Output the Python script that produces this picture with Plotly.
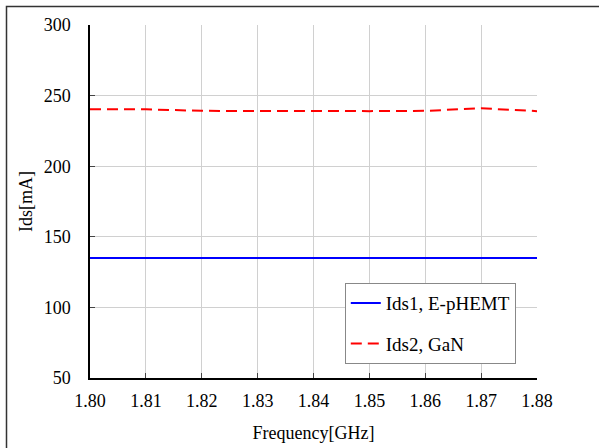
import plotly.graph_objects as go

freq = [1.80, 1.81, 1.82, 1.83, 1.84, 1.85, 1.86, 1.87, 1.88]
ids1 = [135, 135, 135, 135, 135, 135, 135, 135, 135]
ids2 = [240.4, 240.3, 239.2, 239.0, 239.0, 239.0, 239.2, 241.0, 239.0]
x_ticks = [1.80, 1.81, 1.82, 1.83, 1.84, 1.85, 1.86, 1.87, 1.88]
x_labels = ["1.80", "1.81", "1.82", "1.83", "1.84", "1.85", "1.86", "1.87", "1.88"]
y_ticks = [50, 100, 150, 200, 250, 300]

FONT = "Liberation Serif, Times New Roman, serif"

fig = go.Figure()
fig.add_trace(go.Scatter(x=freq, y=ids1, mode="lines", name="Ids1, E-pHEMT",
                         legendgroup="a",
                         line=dict(color="#0000ff", width=2)))
fig.add_trace(go.Scatter(x=freq, y=ids2, mode="lines", name="Ids2, GaN",
                         legendgroup="b",
                         line=dict(color="#ff0000", width=2, dash="11px,6px")))

fig.update_layout(
    width=599, height=448,
    margin=dict(l=90, r=62, t=25, b=70, autoexpand=False),
    paper_bgcolor="white", plot_bgcolor="white",
    font=dict(family=FONT, size=18, color="black"),
    showlegend=True,
    legend=dict(x=0.570, y=0.269, xanchor="left", yanchor="top",
                bordercolor="#888888", borderwidth=1, bgcolor="white",
                font=dict(family=FONT, size=19),
                entrywidth=172, entrywidthmode="pixels",
                traceorder="grouped", tracegroupgap=13),
    xaxis=dict(range=[1.80, 1.88], tickvals=x_ticks, ticktext=x_labels,
               showgrid=True, gridcolor="#d0d0d0", gridwidth=1,
               showline=True, linecolor="black", linewidth=1.5,
               ticks="inside", ticklen=5, tickcolor="#444",
               zeroline=False, ticklabelstandoff=6, automargin=False,
               tickfont=dict(family=FONT, size=18),
               title=dict(text="Frequency[GHz]", font=dict(family=FONT, size=18), standoff=16)),
    yaxis=dict(range=[50, 300], tickvals=y_ticks,
               showgrid=True, gridcolor="#d0d0d0", gridwidth=1,
               showline=True, linecolor="black", linewidth=1.5,
               ticks="inside", ticklen=5, tickcolor="#444",
               zeroline=False, ticklabelstandoff=14, automargin=False,
               tickfont=dict(family=FONT, size=18),
               title=dict(text="Ids[mA]", font=dict(family=FONT, size=18), standoff=6)),
    shapes=[dict(type="rect", xref="paper", yref="paper",
                 x0=-0.1868, x1=1.3, y0=-0.4, y1=1.0524,
                 line=dict(color="#333333", width=1.5), layer="below")],
)

fig.write_html("out.html", config={"displayModeBar": False},
               post_script="document.body.style.margin='0px';")
